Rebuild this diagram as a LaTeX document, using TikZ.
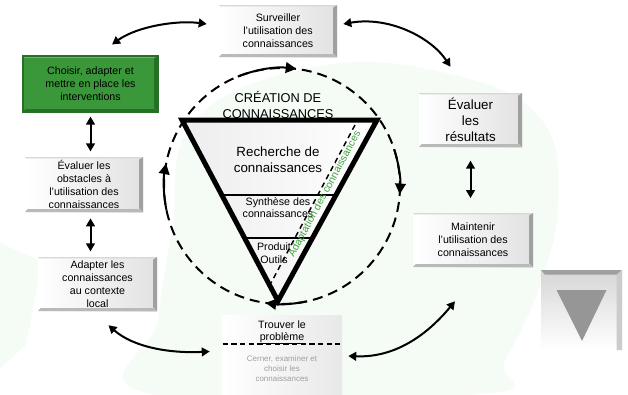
\documentclass[tikz,border=0pt]{standalone}
\usepackage{fontspec}
\setmainfont{Liberation Sans}
\usetikzlibrary{arrows.meta,calc,shadings}
\definecolor{bgG}{RGB}{245,251,245}
\definecolor{boxR}{RGB}{226,226,226}
\definecolor{bevR}{RGB}{160,160,160}
\definecolor{bevB}{RGB}{185,185,185}
\definecolor{bevT}{RGB}{215,215,215}
\definecolor{gFill}{RGB}{58,152,58}
\definecolor{gDark}{RGB}{38,112,38}
\definecolor{adaptG}{RGB}{60,165,60}
\definecolor{triG}{RGB}{150,150,150}
\tikzset{
 sz/.style 2 args={minimum width=#1*0.75pt, minimum height=#2*0.75pt, inner sep=0pt, align=center},
 fa/.style={font=\fontsize{8}{9.75}\selectfont},
 fb/.style={font=\fontsize{10}{12}\selectfont},
 bevel/.style 2 args={path picture={
   \fill[#1] (path picture bounding box.north east) -- (path picture bounding box.south east)
      -- ([xshift=-3pt,yshift=3pt]path picture bounding box.south east)
      -- ([xshift=-3pt,yshift=-2pt]path picture bounding box.north east) -- cycle;
   \fill[#2] (path picture bounding box.south west) -- (path picture bounding box.south east)
      -- ([xshift=-3pt,yshift=2.2pt]path picture bounding box.south east)
      -- ([xshift=2pt,yshift=2.2pt]path picture bounding box.south west) -- cycle;
   \fill[bevT] (path picture bounding box.north west) -- (path picture bounding box.north east)
      -- ([xshift=-3pt,yshift=-1pt]path picture bounding box.north east)
      -- ([xshift=1pt,yshift=-1pt]path picture bounding box.north west) -- cycle;
 }},
 graybox/.style={left color=white, right color=boxR, bevel={bevR}{bevB}},
 greenbox/.style={fill=gFill, draw=gDark, line width=0.8pt, bevel={gDark}{gDark}},
 dbl/.style={{Triangle[length=6pt,width=6.5pt]}-{Triangle[length=6pt,width=6.5pt]}, line width=1.5pt},
 arcarrow/.style={-{Triangle[length=8pt,width=8pt]}, line width=1.5pt},
}
\begin{document}
\begin{tikzpicture}[x=0.75pt,y=-0.75pt]
\useasboundingbox (0,0) rectangle (628,394);
\fill[white] (0,0) rectangle (628,394);
% faint background shapes
\fill[bgG] plot[smooth cycle, tension=0.7] coordinates {(195,120) (320,66) (450,74) (540,118) (558,200) (540,285) (505,360) (480,394) (150,394) (158,320) (172,230)};
\fill[bgG] (0,243) -- (42,262) -- (26,345) -- (0,368) -- cycle;

% dashed cycle
\coordinate (c) at (282,186);
\draw[line width=1.5pt, dash pattern=on 7.5pt off 4.5pt] (c) circle[radius=118];
\draw[arcarrow] ($(c)+(-112:118)$) arc[start angle=-112, end angle=-83, radius=118];
\draw[arcarrow] ($(c)+(-18:118)$) arc[start angle=-18, end angle=4, radius=118];
\draw[arcarrow] ($(c)+(78:118)$) arc[start angle=78, end angle=98, radius=118];
\draw[arcarrow] ($(c)+(168:118)$) arc[start angle=168, end angle=191, radius=118];

% inverted triangle
\coordinate (tl) at (182,120);
\coordinate (tr) at (377,120);
\coordinate (ap) at (278,301);
\draw[line width=3.75pt, line join=miter, left color=gray!14, right color=white] (tl) -- (tr) -- (ap) -- cycle;
\draw[line width=1.1pt] ($(tl)!0.414!(ap)$) -- ($(tr)!0.414!(ap)$);
\draw[line width=1.1pt] ($(tl)!0.652!(ap)$) -- ($(tr)!0.652!(ap)$);
\draw[line width=1.1pt, dash pattern=on 4pt off 3pt] (355,125) -- (271,283);
\node[align=center, font=\fontsize{9.6}{12}\selectfont] (crea) at (278,105) {CRÉATION DE\\CONNAISSANCES};
\node[align=center, fb] (rech) at (278,160) {Recherche de\\connaissances};
\node[align=center, font=\fontsize{8}{9}\selectfont] (synt) at (278,208) {Synthèse des\\connaissances};
\node[align=center, font=\fontsize{8}{9.75}\selectfont] (prod) at (274,253.5) {Produit\\Outils};
\node[rotate=61.7, text=adaptG, inner sep=0pt, font=\fontsize{7.8}{9}\selectfont] (adp) at (325,194) {Adaptation des connaissances};

% boxes
\node[graybox, sz={118}{52}, fa] (surv) at (278,31) {Surveiller\\l'utilisation des\\connaissances};
\node[greenbox, sz={135}{56}, fa] (green) at (90.5,84) {Choisir, adapter et\\mettre en place les\\interventions};
\node[graybox, sz={118}{55}, fa] (obst) at (84,184.5) {Évaluer les\\obstacles à\\l'utilisation des\\connaissances};
\node[graybox, sz={119}{54}, fa] (adapt) at (97.5,284) {Adapter les\\connaissances\\au contexte\\local};
\node[graybox, sz={103}{54}, fb] (evres) at (470.5,120) {Évaluer\\les\\résultats};
\node[graybox, sz={120}{54}, fa] (maint) at (473,240) {Maintenir\\l'utilisation des\\connaissances};

% grey triangle button
\node[sz={81}{80}, top color=gray!32, bottom color=white, path picture={
   \fill[gray!75] (path picture bounding box.north west) -- (path picture bounding box.north east)
      -- ([xshift=-4pt,yshift=-3.5pt]path picture bounding box.north east)
      -- ([xshift=3pt,yshift=-3.5pt]path picture bounding box.north west) -- cycle;
   \fill[gray!40] (path picture bounding box.north east) -- (path picture bounding box.south east)
      -- ([xshift=-4pt]path picture bounding box.south east)
      -- ([xshift=-4pt,yshift=-3.5pt]path picture bounding box.north east) -- cycle;
 }] (btn) at (581.5,310) {};
\fill[triG] ($(btn.center)+(-25,-20)$) -- ($(btn.center)+(25,-20)$) -- ($(btn.center)+(0.5,31)$) -- cycle;

% Trouver le probleme
\node[sz={120}{79}, left color=white, right color=gray!18] (trouver) at (282,354.5) {};
\node[align=center, font=\fontsize{8}{9}\selectfont] (trt) at (282,332) {Trouver le\\problème};
\draw[line width=1pt, dash pattern=on 4pt off 2.5pt] ($(trouver.west)+(1,-10.5)$) -- ($(trouver.east)+(-2,-10.5)$);
\draw[line width=0.8pt] ($(trouver.center)+(-23,-11)$) -- ($(trouver.center)+(23,-11)$);
\node[align=center, text=gray!75, font=\fontsize{6}{7.5}\selectfont] (cern) at (282,369) {Cerner, examiner et\\choisir les\\connaissances};

% vertical arrows
\draw[dbl, shorten <=3pt, shorten >=4pt] (green.south) -- (green.south |- obst.north);
\draw[dbl, shorten <=4.5pt, shorten >=4pt] (green.south |- obst.south) -- (green.south |- adapt.north);
\draw[dbl, shorten <=10pt, shorten >=11pt] (evres.south) -- (evres.south |- maint.north);

% curved arrows
\draw[dbl] ($(green.north)+(21.5,-11)$) .. controls +(25,-18) and +(-30,-4) .. ($(surv.west)+(-12,-7)$);
\draw[dbl] ($(surv.east)+(6,-7)$) .. controls +(45,-8) and +(-20,-30) .. ($(evres.north)+(-20,-26)$);
\draw[dbl] ($(adapt.south)+(11,14)$) .. controls +(25,22) and +(-40,2) .. ($(trouver.west)+(-12,-3)$);
\draw[dbl] ($(trouver.east)+(6,1.5)$) .. controls +(50,2) and +(-25,30) .. ($(maint.south)+(-18,34)$);
\end{tikzpicture}
\end{document}
